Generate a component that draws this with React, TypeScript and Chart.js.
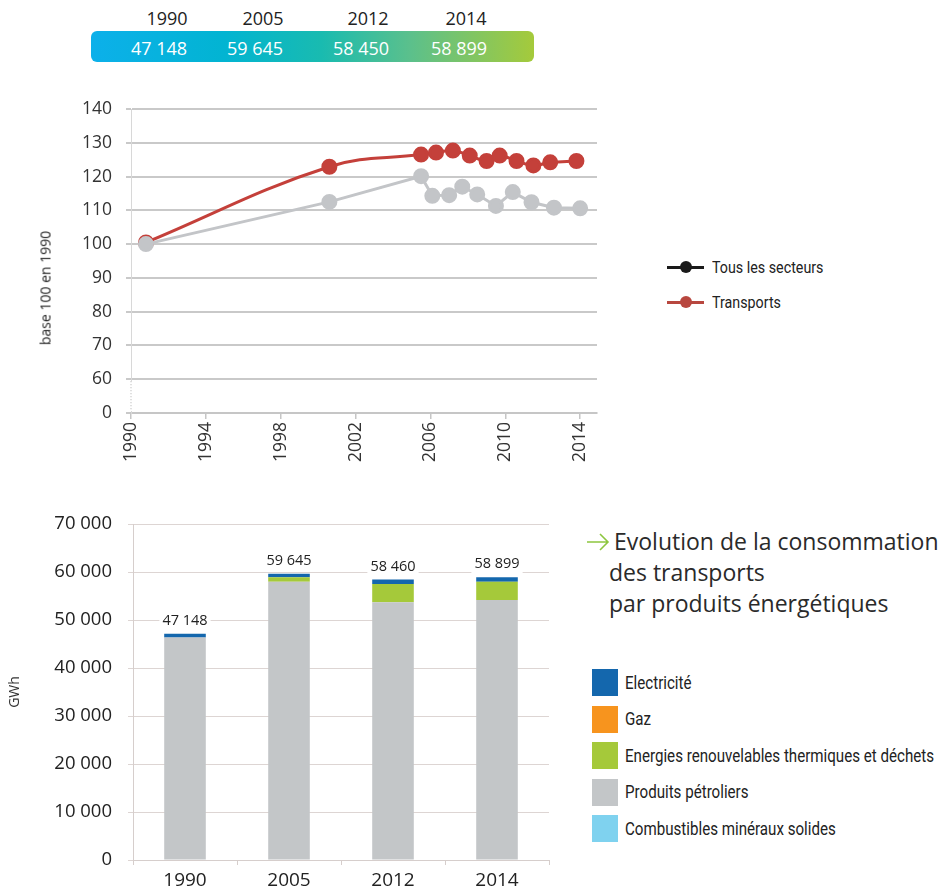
import React, { useEffect, useRef } from "react";
import { Chart, registerables } from "chart.js";

Chart.register(...registerables);
Chart.defaults.font.family = '"Open Sans", sans-serif';

// ---------- Banner ----------
const bannerYears = ["1990", "2005", "2012", "2014"];
const bannerValues = ["47 148", "59 645", "58 450", "58 899"];

// ---------- Line chart (base 100 en 1990) ----------
const lineYearTicks = [1990, 1994, 1998, 2002, 2006, 2010, 2014];
const lineIndexTicks = [50, 60, 70, 80, 90, 100, 110, 120, 130, 140];
const lineBreakLabel = "0"; // the broken-axis bottom (50) is shown as 0
const allSectorsLabel = "Tous les secteurs";
const allSectorsYears = [1990.8, 2000.6, 2005.5, 2006.1, 2007.0, 2007.7, 2008.5, 2009.5, 2010.4, 2011.4, 2012.6, 2014.0];
const allSectorsIndex = [100.0, 112.5, 120.1, 114.3, 114.5, 117.0, 114.7, 111.3, 115.4, 112.4, 110.8, 110.6];
const transportLabel = "Transports";
const transportYears = [1990.8, 2000.6, 2005.5, 2006.3, 2007.2, 2008.1, 2009.0, 2009.7, 2010.6, 2011.5, 2012.4, 2013.8];
const transportIndex = [100.5, 122.9, 126.5, 127.1, 127.7, 126.2, 124.6, 126.2, 124.6, 123.3, 124.2, 124.6];

// ---------- Bar chart (GWh) ----------
const barCategories = ["1990", "2005", "2012", "2014"];
const combustiblesMineraux = [0, 0, 0, 0];
const produitsPetroliers = [46350, 57950, 53700, 54150];
const energiesRenouvelables = [0, 950, 3800, 3800];
const gaz = [0, 0, 0, 0];
const electricite = [798, 745, 960, 949];
const barTotalLabels = ["47 148", "59 645", "58 460", "58 899"];
const barTickStep = 10000;
const barMax = 70000;

const barSeriesNames = [
  "Electricité",
  "Gaz",
  "Energies renouvelables thermiques et déchets",
  "Produits pétroliers",
  "Combustibles minéraux solides",
];
const barSeriesColors = ["#1467ad", "#f7941e", "#a5c93a", "#c3c6c8", "#7fd2ef"];

const titleLines = ["Evolution de la consommation", "des transports", "par produits énergétiques"];

const fmtThousands = (v: number) => String(v).replace(/\B(?=(\d{3})+(?!\d))/g, " ");

const legendFont = 'Roboto, "Open Sans", sans-serif';
const legendSqueeze = "scaleX(0.84)";

const axisBreakPlugin = {
  id: "axisBreak",
  afterDraw(chart: any) {
    const ys = chart.scales.y;
    const x = chart.chartArea.left;
    const y0 = ys.getPixelForValue(lineIndexTicks[1]);
    const y1 = ys.getPixelForValue(lineIndexTicks[0]);
    const ctx = chart.ctx;
    ctx.save();
    ctx.strokeStyle = "#ffffff";
    ctx.lineWidth = 3;
    ctx.beginPath();
    ctx.moveTo(x, y0 + 2);
    ctx.lineTo(x, y1 - 2);
    ctx.stroke();
    ctx.strokeStyle = "#b0b0b0";
    ctx.lineWidth = 1;
    ctx.setLineDash([1, 2]);
    ctx.beginPath();
    ctx.moveTo(x, y0 + 2);
    ctx.lineTo(x, y1 - 2);
    ctx.stroke();
    ctx.restore();
  },
};

const barLabelPlugin = {
  id: "barLabels",
  afterDatasetsDraw(chart: any) {
    const ctx = chart.ctx;
    const meta = chart.getDatasetMeta(chart.data.datasets.length - 1);
    ctx.save();
    ctx.font = '14.5px "Open Sans", sans-serif';
    ctx.textAlign = "center";
    ctx.textBaseline = "middle";
    meta.data.forEach((el: any, i: number) => {
      const txt = barTotalLabels[i];
      const w = ctx.measureText(txt).width;
      const y = el.y - 13;
      ctx.fillStyle = "#ffffff";
      ctx.fillRect(el.x - w / 2 - 3, y - 9, w + 6, 18);
      ctx.fillStyle = "#222222";
      ctx.fillText(txt, el.x, y);
    });
    ctx.restore();
  },
};

function LineChart() {
  const ref = useRef<HTMLCanvasElement | null>(null);
  useEffect(() => {
    if (!ref.current) return;
    const chart = new Chart(ref.current, {
      type: "line",
      data: {
        datasets: [
          {
            label: allSectorsLabel,
            data: allSectorsYears.map((x, i) => ({ x, y: allSectorsIndex[i] })),
            borderColor: "#c3c5c8",
            backgroundColor: "#c3c5c8",
            pointBorderColor: "#c3c5c8",
            pointBackgroundColor: "#c3c5c8",
            borderWidth: 3,
            pointRadius: 6.5,
            tension: 0,
            order: 0,
          },
          {
            label: transportLabel,
            data: transportYears.map((x, i) => ({ x, y: transportIndex[i] })),
            borderColor: "#c4403a",
            backgroundColor: "#c4403a",
            pointBorderColor: "#c4403a",
            pointBackgroundColor: "#c4403a",
            borderWidth: 3,
            pointRadius: 6.5,
            tension: 0.4,
            order: 1,
          },
        ],
      },
      options: {
        responsive: false,
        animation: false,
        layout: { padding: { top: 14, right: 28, left: 0, bottom: 0 } },
        plugins: { legend: { display: false }, tooltip: { enabled: false } },
        scales: {
          x: {
            type: "linear",
            min: 1990,
            max: 2014.9,
            afterBuildTicks: (s: any) => {
              s.ticks = lineYearTicks.map((v) => ({ value: v }));
            },
            afterFit: (s: any) => {
              s.height = 68;
              s.paddingLeft = 0;
              s.paddingRight = 0;
            },
            ticks: {
              autoSkip: false,
              minRotation: 90,
              maxRotation: 90,
              padding: 3,
              color: "#333",
              font: { size: 17.5 },
              callback: (v: any) => String(v),
            },
            grid: { drawOnChartArea: false, tickLength: 6, color: "#c6c6c6", lineWidth: 1.5 },
            border: { display: true, color: "#c6c6c6", width: 2 },
          },
          y: {
            min: lineIndexTicks[0],
            max: lineIndexTicks[lineIndexTicks.length - 1],
            afterBuildTicks: (s: any) => {
              s.ticks = lineIndexTicks.map((v) => ({ value: v }));
            },
            afterFit: (s: any) => {
              s.width = 131;
              s.paddingTop = 0;
              s.paddingBottom = 0;
            },
            ticks: {
              padding: 14,
              color: "#333",
              font: { size: 17.5 },
              callback: (v: any) => (v === lineIndexTicks[0] ? lineBreakLabel : String(v)),
            },
            grid: { color: "#c9c9c9", lineWidth: 2, tickLength: 5 },
            border: { display: true, color: "#d8d8d8", width: 1 },
          },
        },
      },
      plugins: [axisBreakPlugin],
    } as any);
    return () => chart.destroy();
  }, []);
  return <canvas ref={ref} width={625} height={386} style={{ position: "absolute", left: 0, top: 95, width: 625, height: 386 }} />;
}

function BarChart() {
  const ref = useRef<HTMLCanvasElement | null>(null);
  useEffect(() => {
    if (!ref.current) return;
    const mk = (label: string, data: number[], color: string) => ({
      label,
      data,
      backgroundColor: color,
      borderWidth: 0,
      barPercentage: 0.4,
      categoryPercentage: 1,
    });
    const chart = new Chart(ref.current, {
      type: "bar",
      data: {
        labels: barCategories,
        datasets: [
          mk(barSeriesNames[4], combustiblesMineraux, barSeriesColors[4]),
          mk(barSeriesNames[3], produitsPetroliers, barSeriesColors[3]),
          mk(barSeriesNames[2], energiesRenouvelables, barSeriesColors[2]),
          mk(barSeriesNames[1], gaz, barSeriesColors[1]),
          mk(barSeriesNames[0], electricite, barSeriesColors[0]),
        ],
      },
      options: {
        responsive: false,
        animation: false,
        layout: { padding: { top: 24, right: 11, left: 0, bottom: 0 } },
        plugins: { legend: { display: false }, tooltip: { enabled: false } },
        scales: {
          x: {
            stacked: true,
            afterFit: (s: any) => {
              s.height = 33;
              s.paddingLeft = 0;
              s.paddingRight = 0;
            },
            ticks: { padding: 4, color: "#222", font: { size: 19 } },
            grid: { drawOnChartArea: false, offset: true, tickLength: 5, color: "#d6cecc" },
            border: { display: true, color: "#d6cecc", width: 1 },
          },
          y: {
            stacked: true,
            min: 0,
            max: barMax,
            afterFit: (s: any) => {
              s.width = 133;
              s.paddingTop = 0;
              s.paddingBottom = 0;
            },
            title: {
              display: true,
              text: "GWh",
              color: "#333",
              font: { size: 14 },
              padding: { top: 7, bottom: 0 },
            },
            ticks: {
              stepSize: barTickStep,
              padding: 16,
              color: "#222",
              font: { size: 18.5 },
              callback: (v: any) => fmtThousands(Number(v)),
            },
            grid: { color: "#ddd5d3", lineWidth: 1, tickLength: 5 },
            border: { display: true, color: "#d6cecc", width: 1 },
          },
        },
      },
      plugins: [barLabelPlugin],
    } as any);
    return () => chart.destroy();
  }, []);
  return <canvas ref={ref} width={560} height={393} style={{ position: "absolute", left: 0, top: 500, width: 560, height: 393 }} />;
}

const bannerYearCenters = [167, 263, 368, 466];
const bannerValueCenters = [159, 255, 361, 459];
const barLegendTops = [669, 705.5, 742, 778.5, 815];

export default function App() {
  return (
    <div
      style={{
        position: "absolute",
        left: 0,
        top: 0,
        width: 939,
        height: 893,
        overflow: "hidden",
        background: "#ffffff",
        fontFamily: '"Open Sans", sans-serif',
        color: "#222",
      }}
    >
      {/* Banner */}
      {bannerYears.map((y, i) => (
        <div
          key={"by" + i}
          style={{
            position: "absolute",
            left: bannerYearCenters[i],
            top: 6,
            transform: "translateX(-50%)",
            fontSize: 18,
            lineHeight: "24px",
            whiteSpace: "nowrap",
            color: "#222",
          }}
        >
          {y}
        </div>
      ))}
      <div
        style={{
          position: "absolute",
          left: 91,
          top: 31,
          width: 443,
          height: 31,
          borderRadius: 6,
          background: "linear-gradient(90deg, #0cb0ea 0%, #02b4d2 30%, #19bbb0 52%, #5bc08c 72%, #a5ca3b 100%)",
        }}
      />
      {bannerValues.map((v, i) => (
        <div
          key={"bv" + i}
          style={{
            position: "absolute",
            left: bannerValueCenters[i],
            top: 36,
            transform: "translateX(-50%)",
            fontSize: 18,
            lineHeight: "24px",
            whiteSpace: "nowrap",
            color: "#ffffff",
          }}
        >
          {v}
        </div>
      ))}

      {/* Line chart */}
      <LineChart />
      <div
        style={{
          position: "absolute",
          left: 45,
          top: 288,
          transform: "translate(-50%, -50%) rotate(-90deg)",
          fontSize: 14,
          whiteSpace: "nowrap",
          color: "#222",
        }}
      >
        base 100 en 1990
      </div>
      {[
        { label: allSectorsLabel, color: "#1a1a1a", y: 267 },
        { label: transportLabel, color: "#b8473f", y: 302 },
      ].map((it, i) => (
        <React.Fragment key={"ll" + i}>
          <div style={{ position: "absolute", left: 667, top: it.y - 1.5, width: 37, height: 3, background: it.color }} />
          <div
            style={{
              position: "absolute",
              left: 680,
              top: it.y - 6,
              width: 12,
              height: 12,
              borderRadius: 6,
              background: it.color,
            }}
          />
          <div
            style={{
              position: "absolute",
              left: 712,
              top: it.y - 12,
              height: 24,
              lineHeight: "24px",
              fontSize: 17,
              fontFamily: legendFont,
              whiteSpace: "nowrap",
              color: "#222",
              transform: legendSqueeze,
              transformOrigin: "left center",
            }}
          >
            {it.label}
          </div>
        </React.Fragment>
      ))}

      {/* Bar chart */}
      <BarChart />
      <svg style={{ position: "absolute", left: 585, top: 532 }} width={26} height={20}>
        <path d="M2 10 L23 10 M15 2 L23 10 L15 18" stroke="#8dc63f" strokeWidth={1.6} fill="none" />
      </svg>
      {titleLines.map((t, i) => (
        <div
          key={"t" + i}
          style={{
            position: "absolute",
            left: i === 0 ? 614 : 609,
            top: 526 + i * 31,
            fontSize: 23,
            lineHeight: "31px",
            whiteSpace: "nowrap",
            color: "#2a2a2a",
          }}
        >
          {t}
        </div>
      ))}
      {barSeriesNames.map((n, i) => (
        <React.Fragment key={"bl" + i}>
          <div
            style={{
              position: "absolute",
              left: 592,
              top: barLegendTops[i],
              width: 26,
              height: 27,
              background: barSeriesColors[i],
            }}
          />
          <div
            style={{
              position: "absolute",
              left: 625,
              top: barLegendTops[i] + 1.5,
              height: 24,
              lineHeight: "24px",
              fontSize: 18,
              fontFamily: legendFont,
              whiteSpace: "nowrap",
              color: "#222",
              transform: legendSqueeze,
              transformOrigin: "left center",
            }}
          >
            {n}
          </div>
        </React.Fragment>
      ))}
    </div>
  );
}
